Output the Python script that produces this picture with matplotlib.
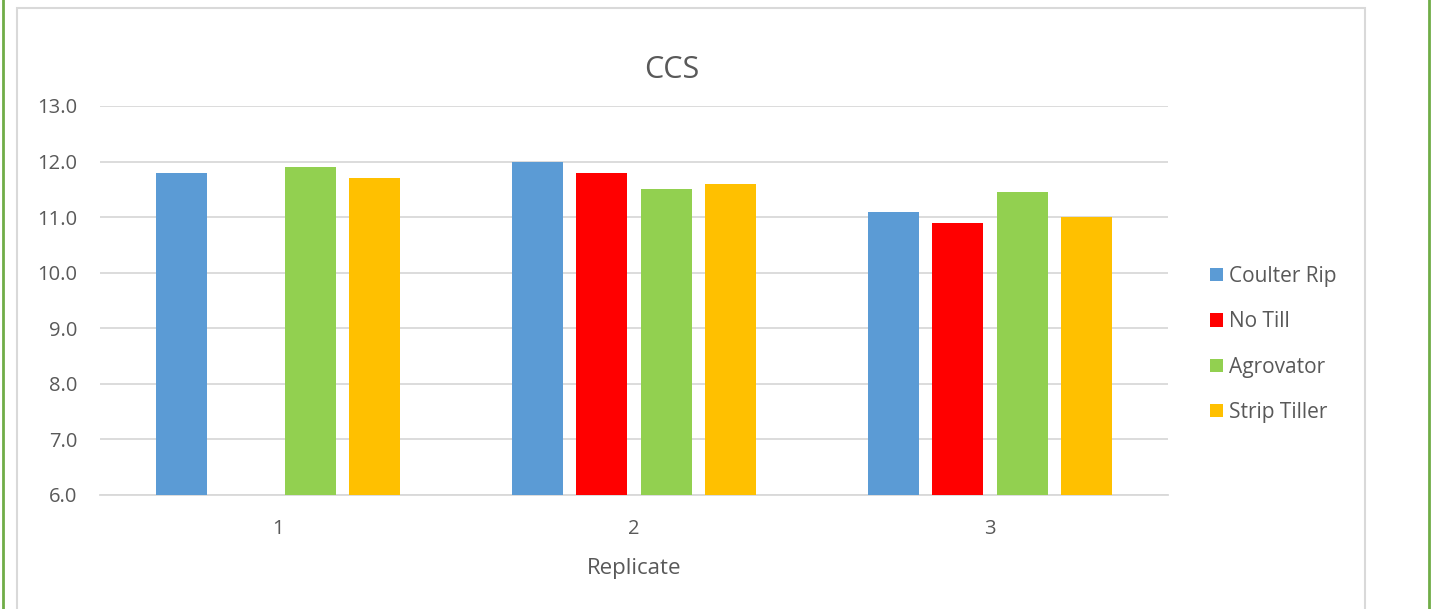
import numpy as np
import matplotlib.pyplot as plt
from matplotlib.patches import Rectangle
from matplotlib.lines import Line2D

plt.rcParams['font.family'] = ['Open Sans', 'DejaVu Sans']

# CCS per replicate and tillage treatment (No Till has no value in replicate 1)
replicates = ['1', '2', '3']
series_names = ['Coulter Rip', 'No Till', 'Agrovator', 'Strip Tiller']
coulter_rip = [11.8, 12.0, 11.1]
no_till = [np.nan, 11.8, 10.9]
agrovator = [11.9, 11.5, 11.45]
strip_tiller = [11.7, 11.6, 11.0]
colors = ['#5B9BD5', '#FF0000', '#92D050', '#FFC000']
yticks = [6.0, 7.0, 8.0, 9.0, 10.0, 11.0, 12.0, 13.0]

fig = plt.figure(figsize=(14.35, 6.09), dpi=100)
ax = fig.add_axes([100 / 1435, 1 - 495 / 609, 1068 / 1435, 389 / 609])

x = np.arange(len(replicates))
width = 0.143
step = 0.181
for i, (vals, c, name) in enumerate(zip([coulter_rip, no_till, agrovator, strip_tiller], colors, series_names)):
    v = np.array(vals, dtype=float)
    ax.bar(x + (i - 1.5) * step, v - 6.0, width, bottom=6.0, color=c, label=name, zorder=3)

ax.set_xlim(-0.5, 2.5)
ax.set_ylim(6.0, 13.0)
ax.set_yticks(yticks)
ax.set_yticklabels(['%.1f' % t for t in yticks])
ax.set_xticks(x)
ax.set_xticklabels(replicates)
ax.grid(axis='y', color='#D9D9D9', linewidth=1.3, zorder=0)
for s in ['top', 'right', 'left']:
    ax.spines[s].set_visible(False)
ax.spines['bottom'].set_color('#D9D9D9')
ax.spines['bottom'].set_linewidth(1.3)
ax.tick_params(axis='both', length=0, labelsize=14.5, colors='#595959')
ax.tick_params(axis='y', pad=16.5)
ax.tick_params(axis='x', pad=17)
ax.set_xlabel('Replicate', fontsize=16, color='#595959', labelpad=14)
fig.text(672 / 1435, 1 - 70 / 609, 'CCS', fontsize=22, color='#595959', ha='center', va='center')

leg = ax.legend(loc='center left', bbox_to_anchor=(1.022, 0.387), frameon=False,
                fontsize=15, handlelength=0.6, handleheight=0.6, handletextpad=0.3,
                labelspacing=1.16, labelcolor='#595959')

# chart frame and page edges
fig.add_artist(Rectangle((17 / 1435, -0.01), (1365 - 17) / 1435, 1.01 - 8 / 609,
                         transform=fig.transFigure, fill=False, edgecolor='#D9D9D9', linewidth=1.5))
fig.add_artist(Line2D([2.5 / 1435, 2.5 / 1435], [0, 1], transform=fig.transFigure, color='#70AD47', linewidth=2))
fig.add_artist(Line2D([1429 / 1435, 1429 / 1435], [0, 1], transform=fig.transFigure, color='#70AD47', linewidth=2))

fig.savefig('out.png', dpi=100, facecolor='white')
